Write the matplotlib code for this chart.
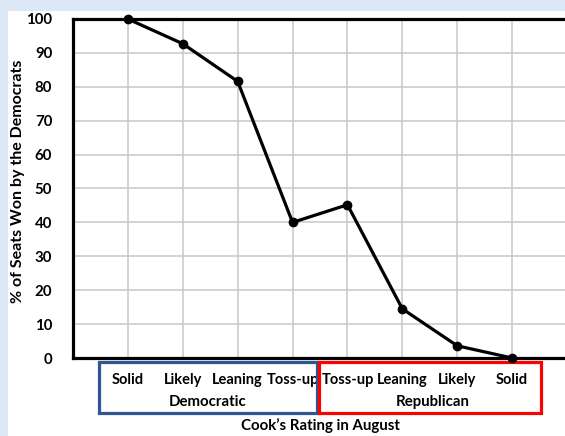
import matplotlib.pyplot as plt
import matplotlib.transforms as mtransforms
from matplotlib.patches import Rectangle

plt.rcParams['font.family'] = ['Lato', 'DejaVu Sans']

# Cook's August rating vs. share of seats the Democrats won
ratings = ['Solid', 'Likely', 'Leaning', 'Toss-up', 'Toss-up', 'Leaning', 'Likely', 'Solid']
pct_won = [100, 92.7, 81.6, 40, 45.2, 14.5, 3.6, 0]
groups = ['Democratic', 'Republican']
group_colors = ['#2f5597', '#ff0000']

fig = plt.figure(figsize=(5.65, 4.36), dpi=100, facecolor='#dce8f6')
# white panel the chart sits on
fig.patches.append(Rectangle((8 / 565, 0), 1, 425 / 436, transform=fig.transFigure,
                             facecolor='white', edgecolor='none', zorder=-10))

ax = fig.add_axes([73 / 565, 78 / 436, 494 / 565, 339 / 436])
ax.set_facecolor('white')

x = list(range(1, len(ratings) + 1))
ax.plot(x, pct_won, color='black', lw=2.3, marker='o', ms=6, zorder=3, clip_on=False)

ax.set_xlim(0, 9)
ax.set_ylim(0, 100)
ax.set_yticks(range(0, 101, 10))
ax.set_xticks(x)
ax.set_xticklabels(ratings, fontsize=10.5, fontweight='bold')
ax.tick_params(axis='both', length=0)
ax.tick_params(axis='x', pad=11)
ax.tick_params(axis='y', pad=15, labelsize=10.8)
for lbl in ax.get_yticklabels():
    lbl.set_fontweight('bold')

ax.grid(True, color='#c8c8c8', lw=1.1)
ax.set_axisbelow(True)
for side in ['left', 'top', 'bottom', 'right']:
    ax.spines[side].set_linewidth(2.3)
    ax.spines[side].set_color('black')

ax.set_ylabel('% of Seats Won by the Democrats', fontsize=11.5, fontweight='bold')
ax.yaxis.set_label_coords(-0.097, 0.52)
ax.set_xlabel('Cook\u2019s Rating in August', fontsize=10.8, fontweight='bold')
ax.xaxis.set_label_coords(0.5, -0.178)

# party boxes under the category labels
trans = mtransforms.blended_transform_factory(ax.transData, ax.transAxes)
spans = [(0.47, 4.44), (4.49, 8.53)]
centers = [2.45, 6.55]
for (x0, x1), name, c, cx in zip(spans, groups, group_colors, centers):
    ax.add_patch(Rectangle((x0, -0.162), x1 - x0, 0.150, transform=trans, fill=False,
                           edgecolor=c, lw=2.3, clip_on=False))
    ax.text(cx, -0.130, name, transform=trans, ha='center', va='center',
            fontsize=10.8, fontweight='bold')

fig.savefig('out.png', dpi=100, facecolor=fig.get_facecolor())
